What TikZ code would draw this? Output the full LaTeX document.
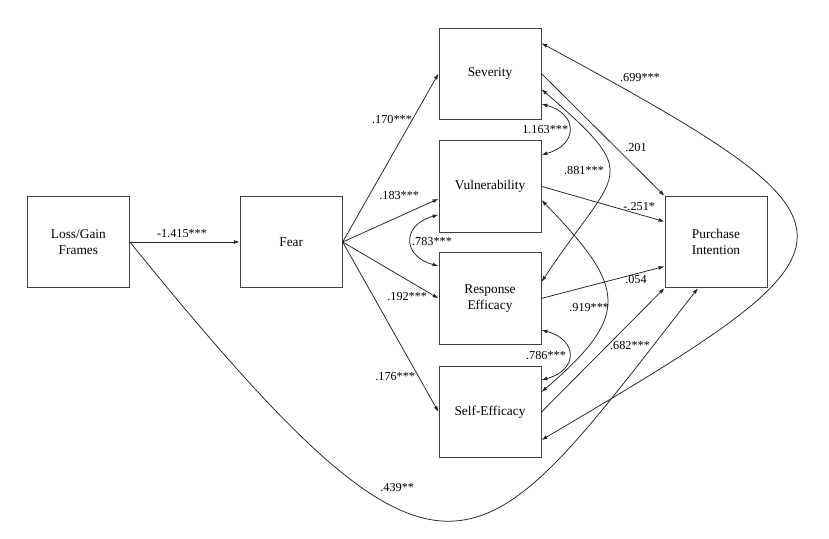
\documentclass[tikz,border=0pt]{standalone}
\usepackage{fontspec}
\setmainfont{Liberation Serif}
\usetikzlibrary{arrows.meta,positioning}

\begin{document}
\begin{tikzpicture}[x=1cm,y=1cm,>={Latex[length=4.2pt,width=2.8pt]},
  box/.style={draw=black!75,line width=.7pt,minimum width=2.55cm,minimum height=2.28cm,inner sep=1pt,align=center,font=\rmfamily\fontsize{9.5}{11}\selectfont},
  lbl/.style={inner sep=0pt,font=\rmfamily\fontsize{8.7}{10}\selectfont},
  path/.style={draw=black!85,line width=.55pt}]
  \useasboundingbox (0,0) rectangle (20.725,13.45);
  \node[box] (lg) at (1.96,7.40) {Loss/Gain\\Frames};\node[box] (fear) at (7.28,7.40) {Fear};
  \node[box] (sev) at (12.25,11.61) {Severity};\node[box] (vul) at (12.25,8.79) {Vulnerability};
  \node[box] (re) at (12.25,5.99) {Response\\Efficacy};\node[box] (se) at (12.25,3.15) {Self-Efficacy};
  \node[box] (pi) at (17.90,7.40) {Purchase\\Intention};
  % paths
  \draw[path,->] (lg.east)--(fear.west);
  \draw[path,->] (lg.east) .. controls +(-51:12.8) and +(-128:9) .. ([xshift=-.45cm]pi.south);
  \draw[path,->] (fear.east)--(sev.west);\draw[path,->] (fear.east)--([yshift=-.31cm]vul.west);
  \draw[path,->] (fear.east)--(re.west);\draw[path,->] (fear.east)--(se.west);
  \draw[path,->] (sev.east)--(pi.north west);\draw[path,->] (vul.east)--([yshift=.51cm]pi.west);
  \draw[path,->] (re.east)--([yshift=-.61cm]pi.west);\draw[path,->] (se.east)--(pi.south west);
  % covariances
  \draw[path,<->] ([yshift=.76cm]sev.east) .. controls +(-28.5:9.75) and +(30.5:9.75) .. ([yshift=-.7cm]se.east);
  \draw[path,<->] ([yshift=-.76cm]sev.east) .. controls +(-15:.95) and +(15:.95) .. ([yshift=.79cm]vul.east);
  \draw[path,<->] ([yshift=-.79cm]re.east) .. controls +(-15:.95) and +(15:.95) .. ([yshift=.8cm]se.east);
  \draw[path,<->] ([yshift=-.71cm]vul.west) .. controls +(-165:.95) and +(165:.95) .. ([yshift=.81cm]re.west);
  \draw[path,<->] ([yshift=-.39cm]sev.east) .. controls +(-41:3.43) and +(56.5:3.43) .. ([yshift=.41cm]re.east);
  \draw[path,<->] ([yshift=-.34cm]vul.east) .. controls +(-46:3) and +(40.5:3) .. ([yshift=.5cm]se.east);
  % estimates
  \node[lbl] (l1) at (4.55,7.62) {-1.415***};\node[lbl] (l2) at (9.93,1.25) {.439**};
  \node[lbl] (l3) at (9.80,10.45) {.170***};\node[lbl] (l4) at (9.98,8.55) {.183***};
  \node[lbl] (l5) at (10.18,6.03) {.192***};\node[lbl] (l6) at (9.88,4.03) {.176***};
  \node[lbl] (l7) at (10.80,7.40) {.783***};\node[lbl] (l8) at (13.63,10.20) {1.163***};
  \node[lbl] (l9) at (14.60,9.18) {.881***};\node[lbl] (l10) at (14.73,5.75) {.919***};
  \node[lbl] (l11) at (13.65,4.57) {.786***};\node[lbl] (l12) at (16.00,11.50) {.699***};
  \node[lbl] (l13) at (15.90,9.75) {.201};\node[lbl] (l14) at (15.98,8.28) {-.251*};
  \node[lbl] (l15) at (15.90,6.45) {.054};\node[lbl] (l16) at (15.75,4.82) {.682***};
\end{tikzpicture}
\end{document}
